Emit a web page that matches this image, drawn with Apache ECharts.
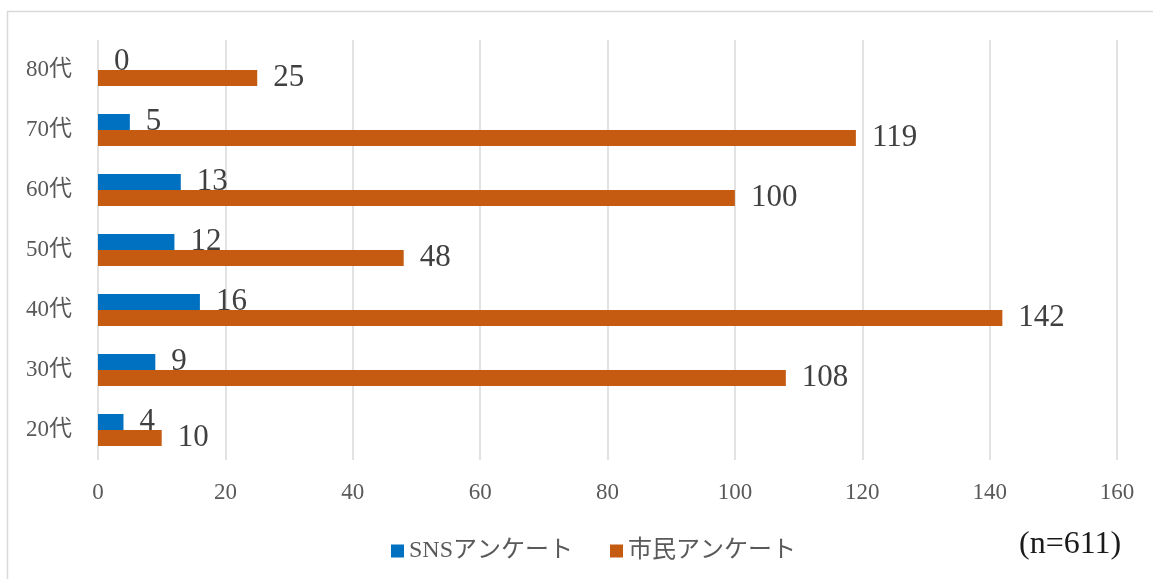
<!DOCTYPE html>
<html>
<head>
<meta charset="utf-8">
<script src="https://cdn.jsdelivr.net/npm/echarts@6/dist/echarts.min.js"></script>
<style>
  html, body { margin: 0; padding: 0; background: #fff; }
  #chart { width: 1153px; height: 579px; }
</style>
</head>
<body>
<div id="chart"></div>
<script>
// 年代別回答数
const ageGroups = ["20代", "30代", "40代", "50代", "60代", "70代", "80代"];
const snsValues = [4, 9, 16, 12, 13, 5, 0];
const citizenValues = [10, 108, 142, 48, 100, 119, 25];
const xTicks = [0, 20, 40, 60, 80, 100, 120, 140, 160];

const serif = "'Liberation Serif', 'Noto Sans CJK JP', serif";

const myChart = echarts.init(document.getElementById("chart"));

const labelStyle = {
  show: true,
  position: "right",
  distance: 16,
  fontFamily: serif,
  fontSize: 31,
  color: "#404040",
};

const option = {
  animation: false,
  graphic: [
    {
      type: "rect",
      shape: { x: 7.5, y: 11.5, width: 1300, height: 700 },
      style: { fill: "none", stroke: "#d9d9d9", lineWidth: 1.5 },
      silent: true,
    },
    {
      type: "text",
      left: 1019,
      top: 529,
      style: {
        text: "(n=611)",
        font: "32px " + serif,
        fill: "#1a1a1a",
      },
    },
  ],
  legend: {
    data: ["SNSアンケート", "市民アンケート"],
    left: 386,
    top: 534,
    icon: "rect",
    itemWidth: 13,
    itemHeight: 13,
    itemGap: 37,
    textStyle: {
      fontFamily: serif,
      fontSize: 24,
      color: "#595959",
    },
  },
  grid: {
    left: 98,
    right: 36,
    top: 40,
    bottom: 119,
  },
  xAxis: {
    type: "value",
    min: xTicks[0],
    max: xTicks[xTicks.length - 1],
    interval: 20,
    axisLine: { show: false },
    axisTick: { show: false },
    axisLabel: {
      margin: 21,
      fontFamily: serif,
      fontSize: 23,
      color: "#595959",
    },
    splitLine: { lineStyle: { color: "#d9d9d9", width: 1.5 } },
  },
  yAxis: {
    type: "category",
    data: ageGroups,
    axisLine: { show: false },
    axisTick: { show: false },
    axisLabel: {
      margin: 26,
      fontFamily: serif,
      fontSize: 23,
      color: "#595959",
    },
  },
  series: [
    {
      name: "SNSアンケート",
      type: "bar",
      data: snsValues,
      barWidth: 16,
      barGap: "0%",
      itemStyle: { color: "#0070c0" },
      label: labelStyle,
    },
    {
      name: "市民アンケート",
      type: "bar",
      data: citizenValues,
      barWidth: 16,
      barGap: "0%",
      itemStyle: { color: "#c55a11" },
      label: labelStyle,
    },
  ],
};

myChart.setOption(option);
</script>
</body>
</html>
